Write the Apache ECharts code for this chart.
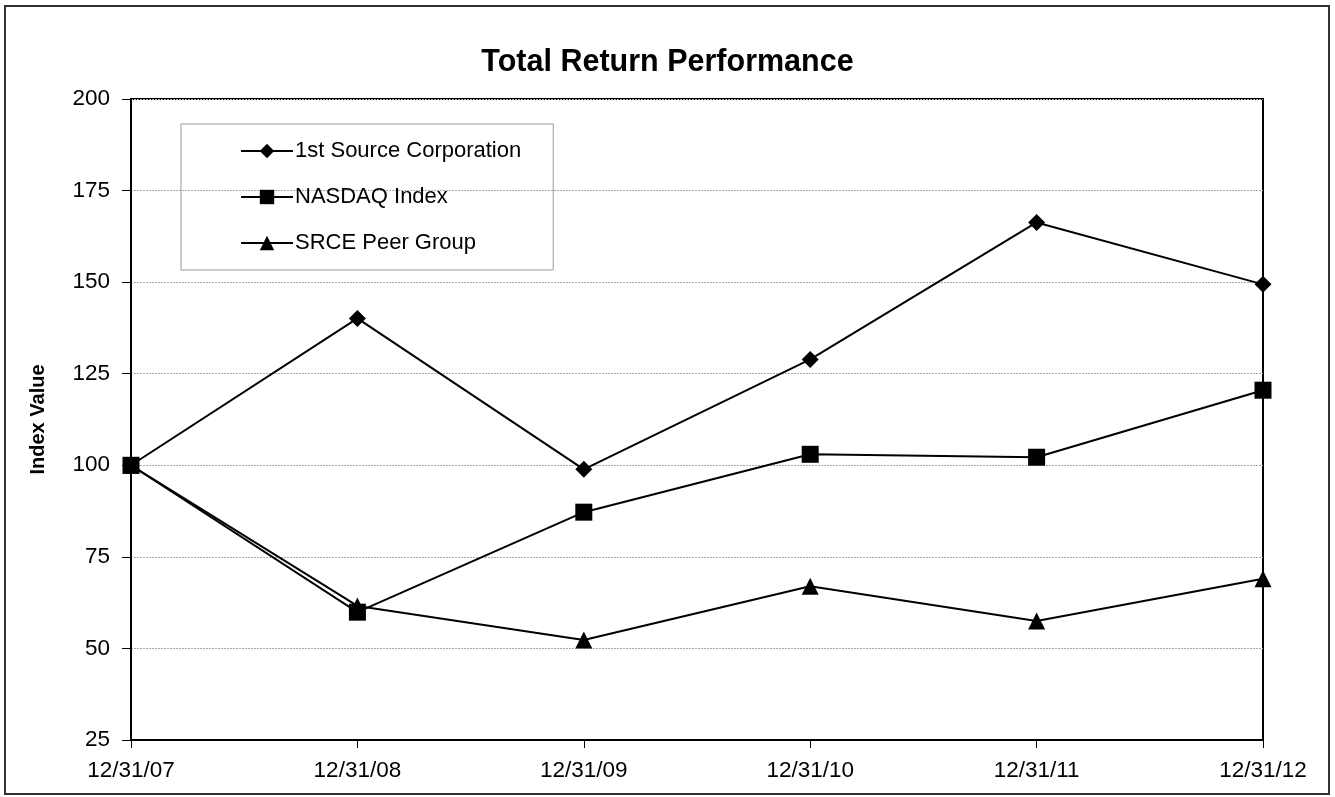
<!DOCTYPE html>
<html><head><meta charset="utf-8">
<script src="https://cdn.jsdelivr.net/npm/echarts@6/dist/echarts.min.js"></script>
<style>html,body{margin:0;padding:0;background:#fff}#c{width:1335px;height:797px}</style>
</head><body><div id="c"></div>
<script>
const categories = ['12/31/07','12/31/08','12/31/09','12/31/10','12/31/11','12/31/12'];
const firstSource = [100, 140.1, 98.9, 128.9, 166.3, 149.4];
const nasdaq = [100, 59.9, 87.2, 103.0, 102.2, 120.5];
const peerGroup = [100, 61.6, 52.3, 67.0, 57.5, 69.0];
const yTicks = [25, 50, 75, 100, 125, 150, 175, 200];

const F = 'Liberation Sans, Arial, sans-serif';
const chart = echarts.init(document.getElementById('c'));
function s(name, data, symbol, size){
  return {name, type:'line', data, symbol, symbolSize:size, showSymbol:true,
    lineStyle:{color:'#000', width:2}, itemStyle:{color:'#000'}, z:3};
}
chart.setOption({
  animation:false,
  title:{text:'Total Return Performance', left:'center', top:42,
    textStyle:{fontFamily:F, fontSize:30.5, fontWeight:'bold', color:'#000'}},
  grid:{left:131, right:72, top:99, bottom:57, show:true, borderColor:'#000', borderWidth:2},
  legend:{orient:'vertical', left:181, top:124, padding:[16,32,16,59], itemGap:24,
    itemWidth:52, itemHeight:18, borderColor:'#999', borderWidth:1,
    textStyle:{fontFamily:F, fontSize:22, color:'#000', padding:[0,0,0,-3]},
    data:['1st Source Corporation','NASDAQ Index','SRCE Peer Group']},
  xAxis:{type:'category', data:categories, boundaryGap:false,
    axisLine:{lineStyle:{color:'#000', width:2}},
    axisTick:{show:true, length:8, lineStyle:{color:'#000', width:1}},
    axisLabel:{fontFamily:F, fontSize:22.5, color:'#000', margin:19},
    splitLine:{show:false}},
  yAxis:{type:'value', min:25, max:200, interval:25,
    name:'Index Value', nameLocation:'middle', nameGap:83, nameRotate:90,
    nameTextStyle:{fontFamily:F, fontSize:20, fontWeight:'bold', color:'#000'},
    axisLine:{show:true, lineStyle:{color:'#000', width:2}},
    axisTick:{show:true, length:9, lineStyle:{color:'#000', width:1}},
    axisLabel:{fontFamily:F, fontSize:22.5, color:'#000', margin:21,
      formatter:v=>yTicks.includes(v)?String(v):''},
    splitLine:{show:true, lineStyle:{color:'#aaa', type:[2,1], width:1}}},
  series:[
    s('1st Source Corporation', firstSource, 'diamond', 17),
    s('NASDAQ Index', nasdaq, 'rect', 17),
    s('SRCE Peer Group', peerGroup, 'triangle', 17)
  ],
  graphic:[{type:'rect', shape:{x:5, y:6, width:1324, height:788},
    style:{fill:'none', stroke:'#333', lineWidth:2}, z:-1}]
});
</script></body></html>
